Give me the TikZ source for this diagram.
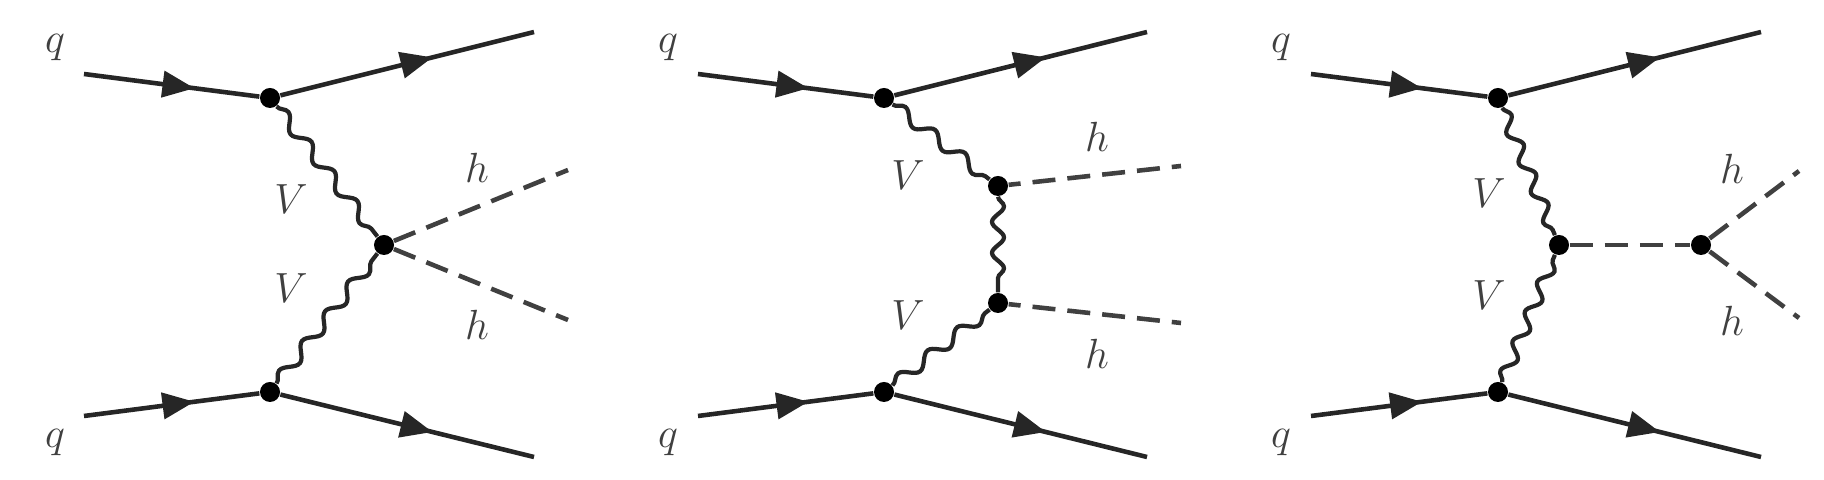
\documentclass[tikz,border=0pt]{standalone}
\usetikzlibrary{arrows.meta,decorations.pathmorphing,decorations.markings}
\tikzset{
  vertex/.style={circle, fill=black, inner sep=0pt, minimum size=2mm},
  lbl/.style={text=black!75, font=\large},
  quark/.style={line width=1.3pt, black!85, postaction={decorate}, decoration={markings,
    mark=at position #1 with {\arrow{Stealth[length=3.2mm,width=2.6mm,inset=0pt]}}}},
  quark/.default=.63,
  boson/.style={line width=1.2pt, black!85, decorate, decoration={snake, segment length=#1, amplitude=.6mm}},
  boson/.default=3.75mm,
  scalar/.style={line width=1.3pt, black!75, dash pattern=on 2.3mm off 1.2mm},
}
\begin{document}
\begin{tikzpicture}[x=.01cm,y=-.01cm]
\useasboundingbox (0,0) rectangle (1824,480);

\node(Qa1)[lbl] at (55,48){$q$};
\node(Qb1)[lbl] at (55,443){$q$};
\node(Va1)[lbl] at (291,199){$V$};
\node(Vb1)[lbl] at (291,288){$V$};
\node(Ha1)[lbl] at (477,168){$h$};
\node(Hb1)[lbl] at (477,325){$h$};
\coordinate(Ia1) at (84,74);
\coordinate(Ib1) at (84,416);
\coordinate(Oa1) at (534,32);
\coordinate(Ob1) at (534,457);
\coordinate(Ea1) at (568,170);
\coordinate(Eb1) at (568,320);
\node(A1)[vertex] at (270,98){};
\node(B1)[vertex] at (270,392){};
\node(C1)[vertex] at (384,245){};

\draw (Ia1) edge[quark] (A1);
\draw (Ib1) edge[quark] (B1);
\draw (A1) edge[quark=.6] (Oa1);
\draw (B1) edge[quark=.6] (Ob1);
\draw (A1) edge[boson] (C1);
\draw (B1) edge[boson] (C1);
\draw (C1) edge[scalar] (Ea1);
\draw (C1) edge[scalar] (Eb1);

\node(Qa2)[lbl] at (668,48){$q$};
\node(Qb2)[lbl] at (668,443){$q$};
\node(Va2)[lbl] at (908,175){$V$};
\node(Vb2)[lbl] at (908,315){$V$};
\node(Ha2)[lbl] at (1097,137){$h$};
\node(Hb2)[lbl] at (1097,354){$h$};
\coordinate(Ia2) at (698,74);
\coordinate(Ib2) at (698,416);
\coordinate(Oa2) at (1147,32);
\coordinate(Ob2) at (1147,457);
\coordinate(Ea2) at (1181,166);
\coordinate(Eb2) at (1181,323);
\node(A2)[vertex] at (884,98){};
\node(B2)[vertex] at (884,392){};
\node(C2)[vertex] at (998,186){};
\node(D2)[vertex] at (998,303){};

\draw (Ia2) edge[quark] (A2);
\draw (Ib2) edge[quark] (B2);
\draw (A2) edge[quark=.6] (Oa2);
\draw (B2) edge[quark=.6] (Ob2);
\draw (A2) edge[boson] (C2);
\draw (C2) edge[boson=3.1mm] (D2);
\draw (B2) edge[boson] (D2);
\draw (C2) edge[scalar, dash phase=1.1mm] (Ea2);
\draw (D2) edge[scalar, dash phase=1.1mm] (Eb2);

\node(Qa3)[lbl] at (1281,48){$q$};
\node(Qb3)[lbl] at (1281,443){$q$};
\node(Va3)[lbl] at (1489,193){$V$};
\node(Vb3)[lbl] at (1489,295){$V$};
\node(Ha3)[lbl] at (1732,169){$h$};
\node(Hb3)[lbl] at (1732,321){$h$};
\coordinate(Ia3) at (1311,74);
\coordinate(Ib3) at (1311,416);
\coordinate(Oa3) at (1761,32);
\coordinate(Ob3) at (1761,457);
\coordinate(Ea3) at (1799,171);
\coordinate(Eb3) at (1799,318);
\node(A3)[vertex] at (1498,98){};
\node(B3)[vertex] at (1498,392){};
\node(C3)[vertex] at (1559,245){};
\node(D3)[vertex] at (1701,245){};

\draw (Ia3) edge[quark] (A3);
\draw (Ib3) edge[quark] (B3);
\draw (A3) edge[quark=.6] (Oa3);
\draw (B3) edge[quark=.6] (Ob3);
\draw (A3) edge[boson=3.2mm] (C3);
\draw (B3) edge[boson=3.2mm] (C3);
\draw (C3) edge[scalar] (D3);
\draw (D3) edge[scalar] (Ea3);
\draw (D3) edge[scalar] (Eb3);
\end{tikzpicture}
\end{document}
